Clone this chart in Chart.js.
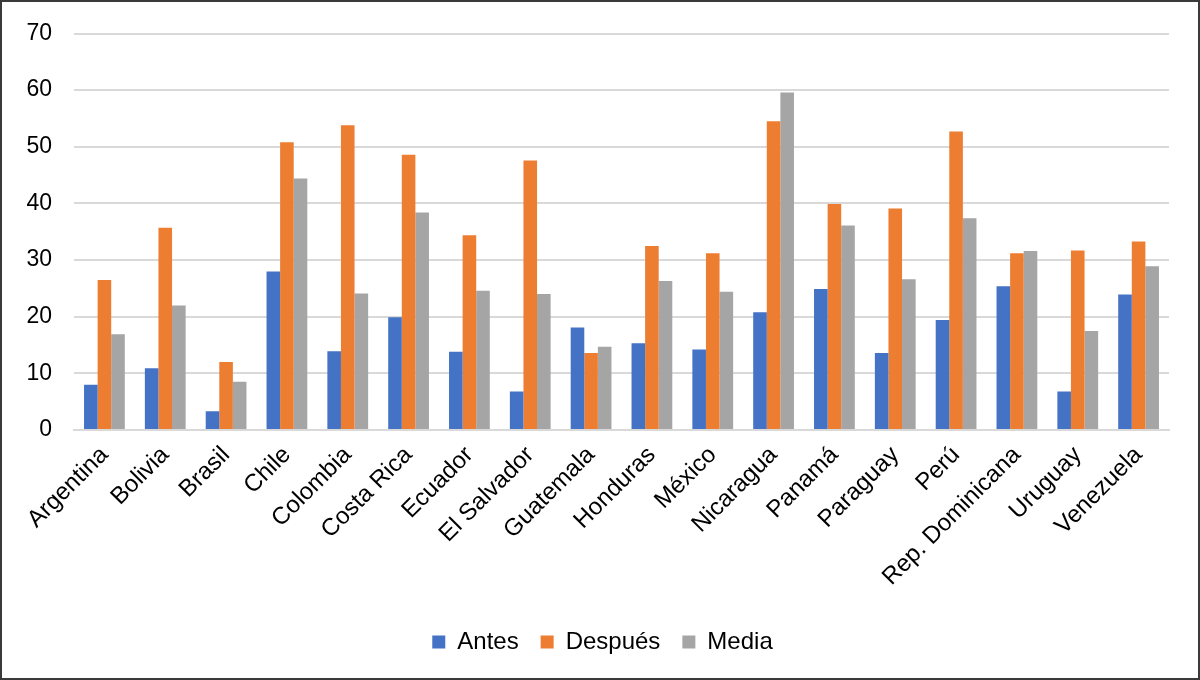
<!DOCTYPE html>
<html>
<head>
<meta charset="utf-8">
<script src="https://cdn.jsdelivr.net/npm/chart.js@4.4.1/dist/chart.umd.min.js"></script>
<style>
  html, body { margin: 0; padding: 0; background: #fff; }
  #wrap { width: 1200px; height: 680px; position: relative; }
</style>
</head>
<body>
<div id="wrap"><canvas id="c" width="1200" height="680"></canvas></div>
<script>
const categories = ["Argentina", "Bolivia", "Brasil", "Chile", "Colombia", "Costa Rica", "Ecuador", "El Salvador", "Guatemala", "Honduras", "México", "Nicaragua", "Panamá", "Paraguay", "Perú", "Rep. Dominicana", "Uruguay", "Venezuela"];
const antes   = [8.0, 10.9, 3.3, 28.0, 13.9, 19.9, 13.8, 6.8, 18.1, 15.3, 14.2, 20.8, 24.9, 13.6, 19.4, 25.4, 6.8, 23.9];
const despues = [26.5, 35.7, 12.0, 50.8, 53.8, 48.6, 34.4, 47.6, 13.6, 32.5, 31.2, 54.5, 39.9, 39.1, 52.7, 31.2, 31.7, 33.3];
const media   = [16.9, 22.0, 8.5, 44.4, 24.1, 38.4, 24.6, 24.0, 14.7, 26.3, 24.4, 59.6, 36.1, 26.6, 37.4, 31.6, 17.5, 28.9];
const seriesNames = ["Antes", "Después", "Media"];
const yMin = 0, yMax = 70, yStep = 10;

const borderPlugin = {
  id: 'frame',
  beforeDraw(chart) {
    const ctx = chart.ctx;
    ctx.save();
    ctx.fillStyle = '#ffffff';
    ctx.fillRect(0, 0, chart.width, chart.height);
    ctx.restore();
  },
  afterLayout(chart) {
    // center the legend on the whole canvas like the reference
    if (chart.legend) { chart.legend.left += 18; chart.legend.right += 18; }
  },
  afterDraw(chart) {
    const ctx = chart.ctx;
    ctx.save();
    ctx.strokeStyle = '#3a3a3a';
    ctx.lineWidth = 2;
    ctx.strokeRect(1, 1, chart.width - 2, chart.height - 2);
    ctx.restore();
  }
};

new Chart(document.getElementById('c'), {
  type: 'bar',
  data: {
    labels: categories,
    datasets: [
      { label: seriesNames[0], data: antes,   backgroundColor: '#4472C4' },
      { label: seriesNames[1], data: despues, backgroundColor: '#ED7D31' },
      { label: seriesNames[2], data: media,   backgroundColor: '#A5A5A5' }
    ]
  },
  options: {
    responsive: false,
    animation: false,
    devicePixelRatio: 1,
    layout: { padding: { top: 17, right: 31, bottom: 16, left: 0 } },
    datasets: { bar: { categoryPercentage: 0.67, barPercentage: 1.0, borderWidth: 0 } },
    plugins: {
      legend: {
        position: 'bottom',
        labels: {
          font: { family: 'Liberation Sans, Arial, sans-serif', size: 24 },
          color: '#000',
          boxWidth: 13, boxHeight: 13,
          padding: 22
        }
      },
      tooltip: { enabled: false }
    },
    scales: {
      x: {
        grid: { display: false, drawTicks: false },
        border: { display: true, color: '#d9d9d9', width: 2 },
        ticks: {
          minRotation: 45, maxRotation: 45, autoSkip: false,
          font: { family: 'Liberation Sans, Arial, sans-serif', size: 24 },
          color: '#000',
          padding: 11
        },
        afterFit(scale) { scale.height = 178; }
      },
      y: {
        min: yMin, max: yMax,
        grid: { color: '#d9d9d9', lineWidth: 2, drawTicks: false },
        border: { display: false },
        ticks: {
          stepSize: yStep,
          font: { family: 'Liberation Sans, Arial, sans-serif', size: 23, lineHeight: 1 },
          color: '#000',
          padding: 22
        },
        afterFit(scale) { scale.width = 74; }
      }
    }
  },
  plugins: [borderPlugin]
});
</script>
</body>
</html>
